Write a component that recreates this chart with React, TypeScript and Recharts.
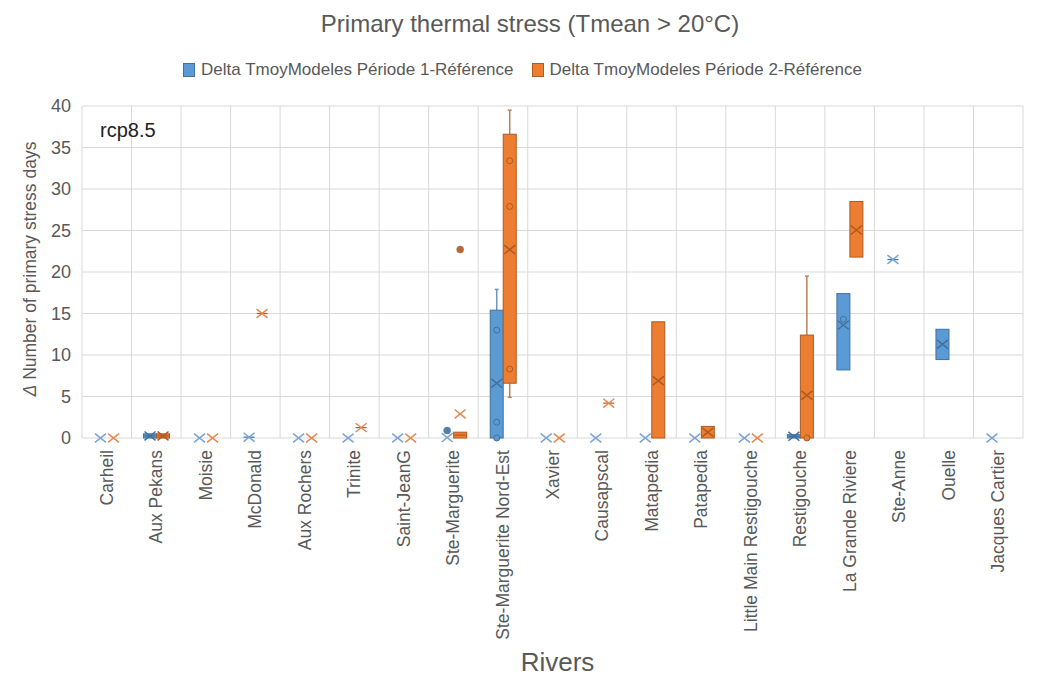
import React from 'react';
import { ComposedChart, Bar, XAxis, YAxis, CartesianGrid, Legend } from 'recharts';

const RIVERS = [
  'Carheil', 'Aux Pekans', 'Moisie', 'McDonald', 'Aux Rochers', 'Trinite', 'Saint-JeanG',
  'Ste-Marguerite', 'Ste-Marguerite Nord-Est', 'Xavier', 'Causapscal', 'Matapedia', 'Patapedia',
  'Little Main Restigouche', 'Restigouche', 'La Grande Riviere', 'Ste-Anne', 'Ouelle', 'Jacques Cartier',
];

const Y_TICKS = [0, 5, 10, 15, 20, 25, 30, 35, 40];

const SERIES_1_NAME = 'Delta TmoyModeles Période 1-Référence';
const SERIES_2_NAME = 'Delta TmoyModeles Période 2-Référence';

type N = number | null;

// Période 1 - Référence (blue)
const P1_MIN: N[] = [0, 0, 0, 0, 0, 0, 0, 0, 0, 0, 0, 0, 0, 0, 0, 8.2, 21.5, 9.45, 0];
const P1_Q1: N[] = [0, 0, 0, 0, 0, 0, 0, 0, 0, 0, 0, 0, 0, 0, 0, 8.2, 21.5, 9.45, 0];
const P1_MED: N[] = [null, 0.25, null, 0.1, null, null, null, null, null, null, null, null, null, null, 0.2, null, 21.5, null, null];
const P1_Q3: N[] = [0, 0.5, 0, 0, 0, 0, 0, 0, 15.4, 0, 0, 0, 0, 0, 0.4, 17.4, 21.5, 13.1, 0];
const P1_MAX: N[] = [0, 0.5, 0, 0, 0, 0, 0, 0, 17.9, 0, 0, 0, 0, 0, 0.4, 17.4, 21.5, 13.1, 0];
const P1_MEAN: N[] = [0, 0.25, 0, 0.1, 0, 0, 0, 0.05, 6.6, 0, 0, 0, 0, 0, 0.2, 13.6, 21.5, 11.3, 0];
const P1_POINTS: number[][] = [[], [], [], [], [], [], [], [], [13.0, 1.9, 0], [], [], [], [], [], [], [14.3], [], [], []];
const P1_OUTLIERS: number[][] = [[], [], [], [], [], [], [], [0.9], [], [], [], [], [], [], [], [], [], [], []];

// Période 2 - Référence (orange)
const P2_MIN: N[] = [0, 0, 0, 15, 0, 1.25, 0, 0, 4.9, 0, 4.2, 0, 0, 0, 0, 21.8, null, null, null];
const P2_Q1: N[] = [0, 0, 0, 15, 0, 1.25, 0, 0, 6.6, 0, 4.2, 0, 0, 0, 0, 21.8, null, null, null];
const P2_MED: N[] = [null, 0.25, null, 15, null, 1.25, null, 0.35, null, null, 4.2, null, null, null, null, null, null, null, null];
const P2_Q3: N[] = [0, 0.5, 0, 15, 0, 1.25, 0, 0.7, 36.6, 0, 4.2, 14.0, 1.4, 0, 12.4, 28.5, null, null, null];
const P2_MAX: N[] = [0, 0.5, 0, 15, 0, 1.25, 0, 0.7, 39.5, 0, 4.2, 14.0, 1.4, 0, 19.5, 28.5, null, null, null];
const P2_MEAN: N[] = [0, 0.25, 0, 15, 0, 1.25, 0, 2.9, 22.7, 0, 4.2, 6.9, 0.7, 0, 5.15, 25.05, null, null, null];
const P2_POINTS: number[][] = [[], [], [], [], [], [], [], [], [33.4, 27.9, 8.3], [], [], [], [], [], [0], [], [], [], []];
const P2_OUTLIERS: number[][] = [[], [], [], [], [], [], [], [22.7], [], [], [], [], [], [], [], [], [], [], []];

type Stats = { min: number; q1: number; med: N; q3: number; max: number; mean: N; points: number[]; outliers: number[] };

function buildStats(i: number, mn: N[], q1: N[], med: N[], q3: N[], mx: N[], mean: N[], pts: number[][], outs: number[][]): Stats | null {
  if (q1[i] == null || q3[i] == null) return null;
  return {
    min: mn[i] as number, q1: q1[i] as number, med: med[i], q3: q3[i] as number, max: mx[i] as number,
    mean: mean[i], points: pts[i], outliers: outs[i],
  };
}

function extent(s: Stats | null): [number, number] | null {
  if (!s) return null;
  const vals = [s.min, s.q1, s.q3, s.max, ...(s.mean != null ? [s.mean] : []), ...(s.med != null ? [s.med] : []), ...s.points, ...s.outliers];
  return [Math.min(...vals), Math.max(...vals)];
}

const data = RIVERS.map((river, i) => {
  const p1 = buildStats(i, P1_MIN, P1_Q1, P1_MED, P1_Q3, P1_MAX, P1_MEAN, P1_POINTS, P1_OUTLIERS);
  const p2 = buildStats(i, P2_MIN, P2_Q1, P2_MED, P2_Q3, P2_MAX, P2_MEAN, P2_POINTS, P2_OUTLIERS);
  return { river, p1, p2, p1Range: extent(p1), p2Range: extent(p2) };
});

const FONT = '"Liberation Sans", Arial, Helvetica, sans-serif';
const GRAY = '#595959';
const GRID = '#d9d9d9';

type Colors = { fill: string; dark: string; whisker: string; mark: string };
const BLUE: Colors = { fill: '#5b9bd5', dark: '#41719c', whisker: '#6f95bd', mark: '#7aa3d2' };
const ORANGE: Colors = { fill: '#ed7d31', dark: '#ae5a21', whisker: '#b9845c', mark: '#e28a52' };

function makeBoxShape(key: 'p1' | 'p2', c: Colors) {
  return (props: any) => {
    const { x, y, width, height, payload } = props;
    const s: Stats | null = payload ? payload[key] : null;
    const range: [number, number] | null = payload ? payload[key + 'Range'] : null;
    if (!s || !range || x == null || y == null) return <g />;
    const [lo, hi] = range;
    const top = Math.min(y, y + (height || 0));
    const h = Math.abs(height || 0);
    const k = hi > lo ? h / (hi - lo) : 0;
    const py = (v: number) => top + (hi - v) * k;
    const cx = x + width / 2;
    const hasBox = s.q3 > s.q1;
    const els: React.ReactNode[] = [];
    if (s.max > s.q3) {
      els.push(<line key="wu" x1={cx} x2={cx} y1={py(s.q3)} y2={py(s.max)} stroke={c.whisker} strokeWidth={1.5} />);
      els.push(<line key="wuc" x1={cx - 2} x2={cx + 2} y1={py(s.max)} y2={py(s.max)} stroke={c.whisker} strokeWidth={1.5} />);
    }
    if (s.min < s.q1) {
      els.push(<line key="wl" x1={cx} x2={cx} y1={py(s.q1)} y2={py(s.min)} stroke={c.whisker} strokeWidth={1.5} />);
      els.push(<line key="wlc" x1={cx - 2} x2={cx + 2} y1={py(s.min)} y2={py(s.min)} stroke={c.whisker} strokeWidth={1.5} />);
    }
    if (hasBox) {
      els.push(<rect key="box" x={x} y={py(s.q3)} width={width} height={py(s.q1) - py(s.q3)} fill={c.fill} stroke={c.dark} strokeWidth={1} />);
    }
    if (s.med != null) {
      els.push(<line key="med" x1={x + 1} x2={x + width - 1} y1={py(s.med)} y2={py(s.med)} stroke={c.dark} strokeWidth={1.2} />);
    }
    s.points.forEach((p, i) => {
      els.push(<circle key={'p' + i} cx={cx} cy={py(p)} r={3} fill={c.fill} stroke={c.dark} strokeWidth={1} />);
    });
    s.outliers.forEach((p, i) => {
      els.push(<circle key={'o' + i} cx={cx} cy={py(p)} r={3.5} fill={c.dark} stroke={c.dark} strokeWidth={0.5} opacity={0.9} />);
    });
    if (s.mean != null) {
      const my = py(s.mean);
      const inside = hasBox && s.mean >= s.q1 && s.mean <= s.q3;
      const col = inside ? c.dark : c.mark;
      const a = 5.5;
      els.push(
        <path key="mean" d={`M${cx - a},${my - a * 0.8}L${cx + a},${my + a * 0.8}M${cx - a},${my + a * 0.8}L${cx + a},${my - a * 0.8}`}
          stroke={col} strokeWidth={1.5} fill="none" />,
      );
    }
    return <g>{els}</g>;
  };
}

const XTick = (props: any) => {
  const { x, y, payload } = props;
  const ty = y + 4;
  return (
    <text x={x} y={ty} transform={`rotate(-90 ${x} ${ty})`} textAnchor="end" dominantBaseline="central"
      fontFamily={FONT} fontSize={17.5} fill={GRAY}>
      {payload.value}
    </text>
  );
};

const YLabel = (props: any) => {
  const vb = props.viewBox || {};
  const lx = 30;
  const ly = vb.y + vb.height / 2 - 3;
  return (
    <text x={lx} y={ly} transform={`rotate(-90 ${lx} ${ly})`} textAnchor="middle" dominantBaseline="central"
      fontFamily={FONT} fontSize={17.5} fill={GRAY}>
      <tspan fontStyle="italic">Δ</tspan> Number of primary stress days
    </text>
  );
};

const XLabel = (props: any) => {
  const vb = props.viewBox || {};
  return (
    <text x={vb.x + vb.width / 2 + 5} y={vb.y + vb.height - 16} textAnchor="middle" fontFamily={FONT} fontSize={26} fill={GRAY}>
      Rivers
    </text>
  );
};

const LegendContent = () => {
  const item = (c: Colors, label: string) => (
    <span style={{ display: 'inline-flex', alignItems: 'center', whiteSpace: 'nowrap' }}>
      <span style={{ display: 'inline-block', width: 10, height: 12, background: c.fill, border: `1px solid ${c.dark}`, marginRight: 6 }} />
      {label}
    </span>
  );
  return (
    <div style={{ display: 'flex', justifyContent: 'center', alignItems: 'center', gap: 18, height: 24, fontFamily: FONT, fontSize: 17, color: GRAY }}>
      {item(BLUE, SERIES_1_NAME)}
      {item(ORANGE, SERIES_2_NAME)}
    </div>
  );
};

export default function App() {
  const n = RIVERS.length;
  return (
    <div style={{ position: 'absolute', left: 0, top: 0, width: 1045, height: 687, background: '#fff' }}>
      <ComposedChart
        width={1045}
        height={687}
        data={data}
        margin={{ top: 82, right: 22, bottom: 0, left: 0 }}
        barGap={0}
      >
        <CartesianGrid
          stroke={GRID}
          strokeWidth={1}
          verticalCoordinatesGenerator={({ offset }: any) =>
            Array.from({ length: n + 1 }, (_, i) => offset.left + (i * offset.width) / n)
          }
        />
        <XAxis
          dataKey="river"
          type="category"
          height={249}
          interval={0}
          axisLine={false}
          tickLine={false}
          tick={<XTick />}
          label={{ content: <XLabel /> } as any}
        />
        <YAxis
          type="number"
          domain={[0, 40]}
          ticks={Y_TICKS}
          interval={0}
          width={82}
          axisLine={false}
          tickLine={false}
          tickMargin={5}
          tick={{ fontFamily: FONT, fontSize: 18, fill: GRAY }}
          label={{ content: <YLabel /> } as any}
        />
        <Legend
          verticalAlign="top"
          align="center"
          content={<LegendContent />}
          wrapperStyle={{ top: 58, left: 0, width: 1045 }}
        />
        <Bar dataKey="p1Range" name={SERIES_1_NAME} fill={BLUE.fill} barSize={13} isAnimationActive={false} shape={makeBoxShape('p1', BLUE)} />
        <Bar dataKey="p2Range" name={SERIES_2_NAME} fill={ORANGE.fill} barSize={13} isAnimationActive={false} shape={makeBoxShape('p2', ORANGE)} />
      </ComposedChart>
      <div style={{ position: 'absolute', left: 530, top: 10, transform: 'translateX(-50%)', whiteSpace: 'nowrap', fontFamily: FONT, fontSize: 24, lineHeight: '28px', color: GRAY }}>
        Primary thermal stress (Tmean &gt; 20°C)
      </div>
      <div style={{ position: 'absolute', left: 100, top: 120, fontFamily: FONT, fontSize: 20, lineHeight: '20px', color: '#222' }}>
        rcp8.5
      </div>
    </div>
  );
}
